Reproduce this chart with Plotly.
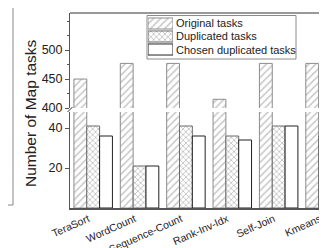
import plotly.graph_objects as go

categories = ["TeraSort", "WordCount", "Sequence-Count", "Rank-Inv-Idx", "Self-Join", "Kmeans"]
original = [450, 477, 477, 415, 477, 477]
duplicated = [41, 21, 41, 36, 41, 36]
chosen = [36, 21, 36, 34, 41, 31]
series_names = ["Original tasks", "Duplicated tasks", "Chosen duplicated tasks"]

W, H = 327, 248
def px(x):
    return x / W
def py(y):
    return 1 - y / H

FONT = "Liberation Sans, Arial, sans-serif"
markers = [
    dict(color="white", line=dict(color="#8c8c8c", width=1),
         pattern=dict(shape="/", fgcolor="#8f8f8f", bgcolor="white", size=5, solidity=0.3)),
    dict(color="white", line=dict(color="#6a6a6a", width=1),
         pattern=dict(shape="x", fgcolor="#777777", bgcolor="white", size=4, solidity=0.35)),
    dict(color="white", line=dict(color="#222222", width=1)),
]
values = [original, duplicated, chosen]

fig = go.Figure()
for yax in ("y", "y2"):
    for name, vals, mk in zip(series_names, values, markers):
        fig.add_trace(go.Bar(x=categories, y=vals, name=name, marker=mk,
                             xaxis="x", yaxis=yax, showlegend=False,
                             offsetgroup=name))

# custom legend swatches (small subplot)
for name, mk in zip(series_names, markers):
    fig.add_trace(go.Bar(y=[name], x=[1], orientation="h", marker=mk,
                         xaxis="x3", yaxis="y3", width=0.85, offset=-0.425,
                         showlegend=False, hoverinfo="skip"))

axcol = "#555555"
fig.update_layout(
    width=W, height=H,
    margin=dict(l=0, r=0, t=0, b=0),
    paper_bgcolor="white", plot_bgcolor="white",
    barmode="group", bargap=0.17, bargroupgap=0,
    font=dict(family=FONT, size=12, color="#222"),
    showlegend=False,
    xaxis=dict(domain=[px(62), 1], anchor="y", range=[-0.5, 5.215],
               showline=True, linewidth=2, linecolor=axcol, ticks="",
               tickangle=-24, tickfont=dict(size=10.5), automargin=False,
               ticklabelshift=-5, ticklabelstandoff=-1,
               showgrid=False, zeroline=False),
    yaxis=dict(domain=[py(200), py(104)], anchor="x", range=[0, 48],
               tickvals=[20, 40], showline=True, linewidth=1, linecolor=axcol,
               ticks="outside", ticklen=4, tickcolor=axcol, showgrid=False,
               zeroline=False, automargin=False, tickfont=dict(size=12.5)),
    yaxis2=dict(domain=[py(100), py(5)], anchor="x", range=[400, 564],
                tickvals=[400, 450, 500], showline=True, linewidth=1, linecolor=axcol,
                ticks="outside", ticklen=4, tickcolor=axcol, showgrid=False,
                minor=dict(dtick=25, ticks="outside", ticklen=2, tickcolor=axcol),
                zeroline=False, automargin=False, tickfont=dict(size=12.5)),
    xaxis3=dict(domain=[px(140), px(165)], anchor="y3", range=[0, 1], visible=False,
                fixedrange=True),
    yaxis3=dict(domain=[py(48), py(9)], anchor="x3", range=[2.5, -0.5], visible=False,
                type="category", categoryorder="array", categoryarray=series_names,
                fixedrange=True),
    shapes=[
        dict(type="rect", xref="paper", yref="paper", x0=px(139), x1=px(288), y0=py(51), y1=py(7.5),
             line=dict(color="#8a8a8a", width=1), fillcolor="rgba(0,0,0,0)", layer="below"),
        dict(type="line", xref="paper", yref="paper", x0=px(62), x1=1, y0=py(5), y1=py(5),
             line=dict(color="#333", width=1)),
        dict(type="line", xref="paper", yref="paper", x0=px(5), x1=px(5), y0=1, y1=py(197),
             line=dict(color="#888", width=1)),
        dict(type="line", xref="paper", yref="paper", x0=0, x1=px(5), y0=py(197), y1=py(197),
             line=dict(color="#888", width=1)),
        dict(type="line", xref="paper", yref="paper", x0=px(59.5), x1=px(64.5), y0=py(104), y1=py(99),
             line=dict(color="#333", width=1)),
    ],
    annotations=[
        dict(text="Number of Map tasks", x=px(23), y=py(105), xref="paper", yref="paper",
             textangle=-90, showarrow=False, font=dict(size=15.5, color="#222"),
             xanchor="center", yanchor="middle"),
    ] + [
        dict(text=name, x=px(166), y=py(yc), xref="paper", yref="paper", showarrow=False,
             xanchor="left", yanchor="middle", font=dict(size=11, color="#222"))
        for name, yc in zip(series_names, [15, 28.5, 42])
    ],
)

fig.write_html("out.html")
